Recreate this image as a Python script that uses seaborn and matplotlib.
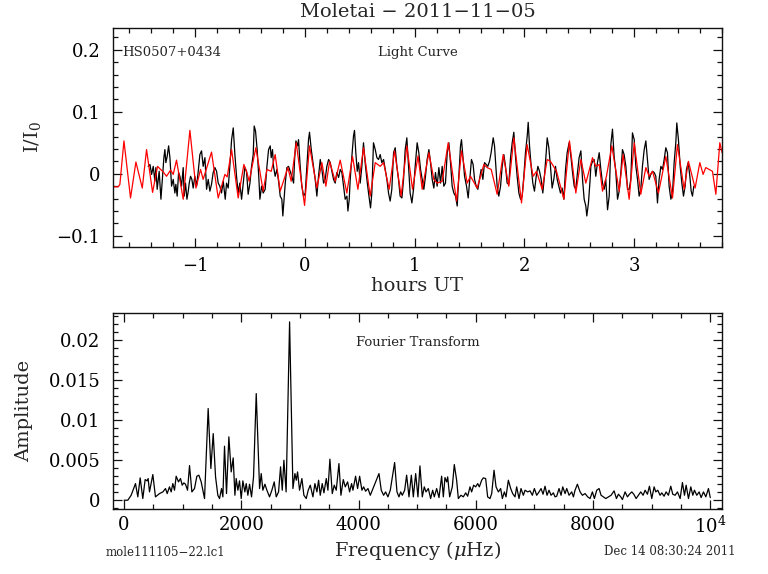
"""Moletai 2011-11-05 light curve + Fourier transform, PGPLOT style."""
import matplotlib
matplotlib.use("Agg")
import matplotlib.pyplot as plt
import seaborn as sns
from matplotlib.ticker import MultipleLocator, FixedLocator

# --- light curve: data (black), hours UT vs I/I0 ---
lc_hours = [
    -1.429, -1.413, -1.398, -1.383, -1.368, -1.359, -1.347, -1.329, -1.313, -1.298,
    -1.286, -1.277, -1.268, -1.256, -1.243, -1.231, -1.216, -1.201, -1.186, -1.177,
    -1.165, -1.152, -1.140, -1.125, -1.110, -1.101, -1.089, -1.076, -1.064, -1.055,
    -1.043, -1.031, -1.019, -1.004, -0.988, -0.973, -0.958, -0.943, -0.928, -0.912,
    -0.897, -0.882, -0.867, -0.852, -0.837, -0.821, -0.806, -0.791, -0.776, -0.761,
    -0.745, -0.727, -0.715, -0.700, -0.685, -0.669, -0.654, -0.639, -0.624, -0.609,
    -0.594, -0.578, -0.563, -0.548, -0.533, -0.518, -0.502, -0.487, -0.472, -0.463,
    -0.451, -0.436, -0.420, -0.411, -0.396, -0.381,
    -0.363, -0.347, -0.332, -0.317, -0.308, -0.296, -0.287, -0.272, -0.256, -0.241,
    -0.226, -0.211, -0.202, -0.189, -0.180, -0.165, -0.150, -0.135, -0.120, -0.104,
    -0.095, -0.083, -0.068, -0.059, -0.044, -0.029, -0.013, 0.002, 0.017, 0.032,
    0.041, 0.057, 0.069, 0.081, 0.093, 0.108, 0.123, 0.139, 0.154, 0.169,
    0.184, 0.199, 0.215, 0.230, 0.245, 0.260, 0.275, 0.290, 0.306, 0.321,
    0.336, 0.351, 0.366, 0.382, 0.391, 0.403, 0.412, 0.427, 0.442, 0.451,
    0.463, 0.476, 0.488, 0.503, 0.518, 0.533, 0.548, 0.564, 0.579, 0.597,
    0.609, 0.624, 0.640, 0.655, 0.670, 0.685, 0.700, 0.716, 0.731, 0.746,
    0.761, 0.776, 0.791, 0.807, 0.822, 0.837, 0.852, 0.867, 0.883, 0.898,
    0.913, 0.928, 0.943, 0.958, 0.974, 0.989, 1.004,
    1.022, 1.037, 1.053, 1.068, 1.083, 1.098, 1.113, 1.129, 1.144, 1.159,
    1.174, 1.189, 1.204, 1.220, 1.235, 1.250, 1.265, 1.280, 1.296, 1.311,
    1.326, 1.341, 1.356, 1.372, 1.387, 1.402, 1.417, 1.426, 1.441, 1.454,
    1.472, 1.487, 1.502, 1.517, 1.532, 1.545, 1.560, 1.575, 1.590, 1.605,
    1.621, 1.636, 1.651, 1.666, 1.681, 1.696, 1.715, 1.727, 1.739, 1.751,
    1.766, 1.782, 1.797, 1.812, 1.827, 1.842, 1.857, 1.873, 1.888, 1.903,
    1.918, 1.933, 1.949, 1.964, 1.979, 1.994, 2.009, 2.025, 2.034, 2.046,
    2.061, 2.076, 2.091, 2.107, 2.122, 2.137, 2.152, 2.167, 2.182, 2.198,
    2.207, 2.222, 2.237, 2.252, 2.267, 2.283, 2.298, 2.313, 2.328, 2.343,
    2.359, 2.374, 2.389,
    2.407, 2.423, 2.438, 2.453, 2.468, 2.483, 2.498, 2.514, 2.529, 2.544,
    2.559, 2.568, 2.583, 2.596, 2.605, 2.620, 2.635, 2.650, 2.665, 2.681,
    2.696, 2.711, 2.726, 2.741, 2.757, 2.772, 2.787, 2.802, 2.817, 2.832,
    2.848, 2.863, 2.878, 2.893, 2.908, 2.924, 2.939, 2.954, 2.969, 2.984,
    3.000, 3.015, 3.030, 3.045, 3.060, 3.075, 3.091, 3.106, 3.121, 3.136,
    3.151, 3.167, 3.182, 3.197, 3.212, 3.227, 3.243, 3.258, 3.273, 3.288,
    3.303, 3.318, 3.334, 3.349, 3.364, 3.379, 3.388, 3.403, 3.419, 3.434,
    3.449, 3.464, 3.476, 3.492, 3.507, 3.519, 3.531, 3.543,
]
lc_flux = [
    0.012, 0.015, -0.001, 0.012, -0.012, 0.010, -0.025, 0.004, -0.041, -0.004,
    0.026, 0.039, 0.018, 0.028, 0.045, 0.026, -0.020, -0.009, -0.031, -0.017,
    -0.036, 0.002, -0.004, -0.020, 0.010, -0.036, -0.015, -0.041, -0.028, -0.015,
    -0.004, -0.009, -0.023, -0.004, -0.020, 0.004, 0.031, 0.037, 0.012, 0.026,
    -0.025, -0.009, -0.028, -0.017, 0.002, 0.010, 0.004, -0.015, -0.020, -0.031,
    -0.012, -0.041, -0.015, -0.023, 0.012, 0.055, 0.074, 0.031, -0.004, -0.031,
    -0.015, -0.041, -0.015, 0.010, 0.004, -0.033, -0.015, 0.012, 0.031, 0.077,
    0.069, 0.039, -0.009, -0.041, -0.020, -0.031,
    -0.025, 0.012, 0.039, 0.045, 0.026, 0.039, 0.012, -0.004, 0.007, -0.012,
    -0.036, -0.041, -0.068, -0.036, -0.015, 0.010, 0.012, 0.004, -0.004, -0.015,
    0.023, 0.053, 0.045, 0.055, 0.012, -0.020, -0.036, -0.031, 0.012, 0.055,
    0.067, 0.039, 0.023, 0.007, -0.009, -0.036, -0.004, 0.023, 0.007, -0.015,
    -0.009, 0.012, 0.023, 0.018, 0.004, -0.009, -0.015, 0.002, -0.006, 0.007,
    0.002, -0.020, -0.041, -0.036, -0.060, -0.041, -0.009, 0.028, 0.061, 0.070,
    0.034, 0.004, 0.018, -0.015, 0.012, 0.050, 0.018, -0.009, -0.031, -0.055,
    -0.031, 0.050, 0.039, 0.026, 0.023, 0.031, 0.018, 0.023, 0.007, -0.009,
    -0.031, -0.044, -0.025, 0.034, 0.042, 0.012, -0.009, -0.036, -0.039, -0.009,
    0.039, 0.058, 0.012, -0.031, -0.047, -0.025, 0.012,
    0.050, 0.034, 0.007, -0.009, -0.025, -0.004, 0.023, 0.039, 0.018, -0.009,
    -0.023, 0.002, -0.020, 0.010, -0.015, 0.012, -0.020, -0.015, 0.034, 0.050,
    0.018, -0.020, -0.031, -0.036, -0.052, -0.004, 0.045, 0.055, 0.023, -0.004,
    -0.020, -0.039, -0.009, 0.023, 0.015, -0.009, -0.020, -0.025, -0.009, 0.007,
    -0.009, 0.018, 0.015, 0.012, 0.020, 0.034, 0.058, 0.045, 0.012, -0.020,
    -0.036, -0.020, 0.012, 0.031, 0.012, -0.015, -0.017, 0.026, 0.050, 0.067,
    0.028, -0.004, -0.031, -0.041, -0.036, -0.004, 0.034, 0.061, 0.083, 0.045,
    0.012, -0.015, -0.028, -0.004, 0.012, 0.004, -0.009, -0.031, -0.004, 0.034,
    0.058, 0.042, 0.012, -0.023, -0.009, 0.012, -0.009, -0.020, -0.031, -0.023,
    -0.041, 0.007, 0.034,
    0.050, 0.028, 0.002, -0.020, -0.025, 0.002, 0.026, 0.037, -0.009, -0.041,
    -0.052, -0.068, -0.047, -0.015, 0.012, 0.020, 0.023, -0.004, 0.018, 0.034,
    0.007, -0.015, -0.025, -0.009, -0.058, -0.036, 0.047, 0.072, 0.028, 0.004,
    -0.041, -0.028, 0.002, 0.039, 0.031, 0.012, -0.025, -0.025, -0.009, 0.066,
    0.055, 0.012, -0.009, -0.036, -0.025, 0.012, 0.039, 0.053, 0.023, -0.009,
    -0.001, 0.004, 0.002, -0.004, -0.047, -0.009, 0.012, 0.007, 0.023, 0.042,
    0.034, -0.020, -0.041, -0.031, 0.018, 0.050, 0.082, 0.055, 0.012, -0.015,
    -0.036, -0.020, 0.007, 0.018, -0.004, -0.028, -0.036, -0.020,
]

# --- light curve: multi-sine fit (red) ---
fit_hours = [
    -1.748, -1.702, -1.687, -1.650, -1.590, -1.541, -1.483, -1.444, -1.389, -1.344,
    -1.316, -1.292, -1.262, -1.225, -1.201, -1.171, -1.110, -1.049, -0.994, -0.952,
    -0.928, -0.852, -0.791, -0.730, -0.709, -0.669, -0.609, -0.557, -0.533, -0.509,
    -0.448, -0.381, -0.347, -0.308, -0.272, -0.226, -0.156, -0.126, -0.080, -0.004,
    0.041, 0.108, 0.154, 0.190, 0.224, 0.275, 0.321, 0.381, 0.433, 0.482,
    0.533, 0.594, 0.640, 0.685, 0.716, 0.767, 0.816, 0.876, 0.928, 0.980,
    1.030, 1.068, 1.129, 1.174, 1.204, 1.250, 1.305, 1.381, 1.426, 1.478,
    1.508, 1.569, 1.630, 1.660, 1.697, 1.751, 1.806, 1.857, 1.903, 1.973,
    2.024, 2.079, 2.110, 2.161, 2.207, 2.237, 2.292, 2.359, 2.410, 2.468,
    2.514, 2.559, 2.620, 2.650, 2.681, 2.711, 2.747, 2.796, 2.863, 2.899,
    2.954, 3.000, 3.060, 3.106, 3.136, 3.167, 3.221, 3.288, 3.349, 3.394,
    3.455, 3.494, 3.555, 3.598, 3.628, 3.652, 3.683, 3.713, 3.744, 3.780,
    3.801,
]
fit_flux = [
    -0.021, -0.021, -0.017, 0.053, -0.039, 0.019, -0.023, 0.039, -0.030, 0.012,
    0.007, 0.003, -0.004, 0.006, -0.001, 0.022, -0.041, 0.070, -0.023, 0.007,
    -0.009, 0.035, -0.039, -0.001, -0.005, 0.039, -0.039, 0.015, 0.004, -0.012,
    0.042, -0.028, 0.007, 0.004, 0.031, -0.028, 0.010, -0.012, 0.050, -0.051,
    0.045, -0.023, 0.018, -0.020, 0.020, -0.012, 0.022, -0.031, 0.028, -0.025,
    0.042, -0.036, 0.018, 0.012, 0.018, -0.025, 0.037, -0.036, 0.045, -0.025,
    0.029, -0.025, 0.034, -0.009, -0.015, -0.012, 0.050, -0.044, 0.037, -0.015,
    -0.004, -0.023, 0.015, 0.010, 0.007, -0.033, 0.031, -0.020, 0.058, -0.047,
    0.047, -0.004, 0.004, -0.025, 0.023, 0.020, 0.004, -0.041, 0.053, -0.031,
    0.023, -0.015, 0.026, 0.012, 0.015, -0.028, -0.004, 0.045, -0.028, 0.031,
    -0.041, 0.050, -0.033, 0.010, -0.004, 0.004, -0.031, 0.028, -0.039, 0.047,
    -0.025, 0.020, -0.023, 0.018, -0.001, 0.010, 0.007, 0.004, -0.033, 0.050,
    0.034,
]

# --- Fourier transform: frequency (uHz) vs amplitude (units of 1e-3) ---
ft_freq = [
    0, 63, 120, 194, 234, 274, 319, 359, 393, 410,
    433, 490, 535, 604, 661, 706, 735, 774, 803, 831,
    860, 888, 928, 962, 991, 1019, 1047, 1082, 1116, 1156,
    1201, 1241, 1275, 1315, 1372, 1434, 1480, 1520, 1560, 1599,
    1628, 1662, 1685, 1713, 1747, 1787, 1827, 1861, 1890, 1912,
    1941, 1969, 1998, 2026, 2060, 2083, 2111, 2140, 2174, 2208,
    2254, 2311, 2339, 2367, 2402, 2436, 2481, 2521, 2561, 2595,
    2635, 2669, 2698, 2726, 2764, 2823, 2880, 2914, 2937, 2959,
    2993, 3033, 3067, 3107, 3141, 3176, 3221, 3255, 3289, 3318,
    3346, 3380, 3409, 3449, 3477, 3511, 3551, 3585, 3619, 3665,
    3699, 3739, 3773, 3813, 3847, 3881, 3904, 3949, 3983, 4018,
    4057, 4086, 4120, 4160, 4200, 4257, 4348, 4387, 4427, 4461,
    4501, 4541, 4615, 4655, 4689, 4718, 4746, 4786, 4820, 4860,
    4900, 4934, 4974, 5013, 5047, 5087, 5121, 5150, 5190, 5229,
    5264, 5292, 5332, 5372, 5417, 5446, 5474, 5503, 5520, 5554,
    5599, 5633, 5673, 5702, 5747, 5787, 5827, 5861, 5901, 5929,
    5963, 5998, 6032, 6060, 6100, 6128, 6168, 6202, 6242, 6271,
    6311, 6345, 6385, 6424, 6453, 6487, 6515, 6555, 6595, 6629,
    6669, 6697, 6737, 6771, 6811, 6840, 6885, 6925, 6965, 6999,
    7039, 7079, 7113, 7147, 7181, 7215, 7249, 7284, 7323, 7352,
    7380, 7420, 7454, 7483, 7523, 7551, 7591, 7636, 7665, 7693,
    7733, 7779, 7818, 7864, 7909, 7949, 7989, 8023, 8063, 8103,
    8137, 8177, 8217, 8262, 8308, 8359, 8399, 8433, 8473, 8501,
    8547, 8587, 8621, 8661, 8695, 8735, 8774, 8814, 8854, 8888,
    8928, 8962, 9002, 9042, 9070, 9104, 9144, 9173, 9212, 9246,
    9286, 9326, 9360, 9400, 9440, 9486, 9525, 9560, 9588, 9628,
    9668, 9702, 9730, 9770, 9810, 9844, 9884, 9924, 9969, 10000,
]
ft_amp_milli = [
    0, 0, 0.62, 2.08, 0.42, 2.79, 0.21, 2.58, 2.42, 2.71,
    1.04, 3.21, 0.42, 0.83, 1.04, 1.46, 0.83, 1.67, 1.04, 2.08,
    1.25, 3.0, 2.29, 2.71, 1.88, 2.17, 2.0, 1.25, 4.33, 1.04,
    1.46, 3.0, 3.13, 2.29, 0.21, 11.46, 3.96, 8.33, 2.92, 0.62,
    0.21, 1.46, 0.42, 6.75, 0.83, 7.92, 3.54, 5.29, 0.62, 2.71,
    1.25, 2.42, 0.21, 2.42, 1.04, 2.08, 0.62, 2.0, 0.42, 2.92,
    13.33, 1.46, 3.33, 1.25, 2.0, 1.25, 0.42, 1.25, 2.29, 0.42,
    1.04, 4.17, 1.25, 5.0, 1.04, 22.29, 1.46, 3.33, 2.5, 3.54,
    1.25, 2.71, 0.62, 0.21, 1.25, 1.88, 0.42, 2.08, 1.04, 2.5,
    0.62, 2.08, 0.92, 2.71, 1.25, 5.13, 0.83, 1.88, 1.25, 4.58,
    0.62, 2.58, 1.67, 2.29, 1.04, 2.08, 1.25, 3.0, 1.46, 3.0,
    1.25, 1.67, 1.13, 1.46, 0.62, 1.67, 3.33, 1.25, 0.62, 1.04,
    0.42, 1.25, 4.71, 1.04, 0.42, 1.04, 0.62, 1.25, 3.13, 0.42,
    3.13, 0.42, 3.33, 0.42, 4.29, 0.42, 1.67, 1.04, 1.46, 0.21,
    1.25, 0.42, 1.46, 0.33, 3.0, 0.42, 2.83, 2.29, 2.92, 0.42,
    1.67, 4.46, 2.5, 0.21, 0.62, 0.42, 0.92, 0.5, 1.67, 1.04,
    1.88, 1.67, 2.08, 1.67, 2.5, 2.79, 2.71, 0.42, 0.21, 0.83,
    3.75, 1.67, 1.04, 1.46, 0.21, 1.04, 0.42, 2.5, 1.46, 0.83,
    0.42, 1.67, 0.21, 1.46, 0.62, 1.25, 1.04, 1.17, 0.62, 1.46,
    0.62, 1.04, 1.46, 0.75, 1.75, 0.62, 1.25, 0.62, 0.92, 0.42,
    0.5, 1.46, 0.62, 1.67, 0.83, 1.46, 0.62, 1.04, 0.42, 1.25,
    2.0, 1.04, 0.62, 0.83, 0.42, 0.21, 1.04, 0.21, 1.25, 1.46,
    0.62, 0.42, 0.21, 0.42, 0.62, 1.17, 0.21, 0.75, 0.42, 0.08,
    1.04, 0.42, 0.75, 1.04, 0.75, 0.21, 0.62, 1.04, 0.62, 1.25,
    0.75, 1.75, 0.21, 1.67, 1.04, 1.25, 0.62, 0.92, 0.5, 1.04,
    0.62, 1.75, 0.75, 0.62, 1.04, 0.21, 2.21, 0.62, 1.88, 0.21,
    1.67, 0.62, 1.25, 0.62, 1.04, 0.33, 1.04, 0.42, 1.46, 0.33,
]
ft_amp = [a / 1000.0 for a in ft_amp_milli]

# tick labels
lc_xticks = [-1, 0, 1, 2, 3]
lc_xlabels = ["\u22121", "0", "1", "2", "3"]
lc_yticks = [-0.1, 0, 0.1, 0.2]
lc_ylabels = ["\u22120.1", "0", "0.1", "0.2"]
ft_xticks = [0, 2000, 4000, 6000, 8000, 10000]
ft_xlabels = ["0", "2000", "4000", "6000", "8000", "$10^4$"]
ft_yticks = [0, 0.005, 0.01, 0.015, 0.02]
ft_ylabels = ["0", "0.005", "0.01", "0.015", "0.02"]

sns.set_theme(style="ticks")
plt.rcParams["font.family"] = ["DejaVu Serif", "DejaVu Sans"]
plt.rcParams["mathtext.fontset"] = "dejavuserif"
plt.rcParams["axes.linewidth"] = 1.0
plt.rcParams["axes.edgecolor"] = "#111111"

fig = plt.figure(figsize=(7.68, 5.74), dpi=100)
ax1 = fig.add_axes([0.1471, 0.5697, 0.7930, 0.3815])
ax2 = fig.add_axes([0.1471, 0.1132, 0.7930, 0.3415])

sns.lineplot(x=lc_hours, y=lc_flux, ax=ax1, color="black", linewidth=0.9,
             estimator=None, sort=False)
sns.lineplot(x=fit_hours, y=fit_flux, ax=ax1, color="#ff0000", linewidth=0.9,
             estimator=None, sort=False)
sns.lineplot(x=ft_freq, y=ft_amp, ax=ax2, color="black", linewidth=0.9,
             estimator=None, sort=False)

for ax in (ax1, ax2):
    ax.tick_params(which="both", direction="in", top=True, right=True,
                   colors="#111111", labelcolor="black", labelsize=13)
    ax.tick_params(which="major", length=6.5, width=0.9)
    ax.tick_params(which="minor", length=3.5, width=0.9)
    ax.tick_params(axis="y", pad=9)

ax1.set_xlim(-1.75, 3.80)
ax1.set_ylim(-0.118, 0.235)
ax1.xaxis.set_major_locator(FixedLocator(lc_xticks))
ax1.set_xticklabels(lc_xlabels)
ax1.yaxis.set_major_locator(FixedLocator(lc_yticks))
ax1.set_yticklabels(lc_ylabels)
ax1.xaxis.set_minor_locator(MultipleLocator(0.2))
ax1.yaxis.set_minor_locator(MultipleLocator(0.02))
ax1.tick_params(axis="x", pad=7)
ax1.set_xlabel("hours UT", fontsize=14)
ax1.xaxis.set_label_coords(0.5, -0.135)
ax1.set_ylabel("I/I$_0$", fontsize=14)
ax1.yaxis.set_label_coords(-0.115, 0.5)
ax1.text(0.016, 0.89, "HS0507+0434", transform=ax1.transAxes,
         fontsize=9.5, ha="left", va="center")
ax1.text(0.50, 0.89, "Light Curve", transform=ax1.transAxes,
         fontsize=9.5, ha="center", va="center")

ax2.set_xlim(-190, 10200)
ax2.set_ylim(-0.0011, 0.0234)
ax2.xaxis.set_major_locator(FixedLocator(ft_xticks))
ax2.set_xticklabels(ft_xlabels)
ax2.yaxis.set_major_locator(FixedLocator(ft_yticks))
ax2.set_yticklabels(ft_ylabels)
ax2.xaxis.set_minor_locator(MultipleLocator(500))
ax2.yaxis.set_minor_locator(MultipleLocator(0.001))
ax2.tick_params(axis="x", pad=5)
ax2.set_xlabel("Frequency ($\\mu$Hz)", fontsize=14)
ax2.xaxis.set_label_coords(0.5, -0.155)
ax2.set_ylabel("Amplitude", fontsize=14)
ax2.yaxis.set_label_coords(-0.131, 0.5)
ax2.text(0.50, 0.85, "Fourier Transform", transform=ax2.transAxes,
         fontsize=9.5, ha="center", va="center")

fig.text(0.5436, 0.979, "Moletai \u2212 2011\u221211\u221205", ha="center",
         va="center", fontsize=14)
fig.text(0.137, 0.038, "mole111105\u221222.lc1", ha="left", va="center",
         fontsize=8.5)
fig.text(0.958, 0.040, "Dec 14 08:30:24 2011", ha="right", va="center",
         fontsize=8.5)

fig.savefig("out.png", dpi=100)
